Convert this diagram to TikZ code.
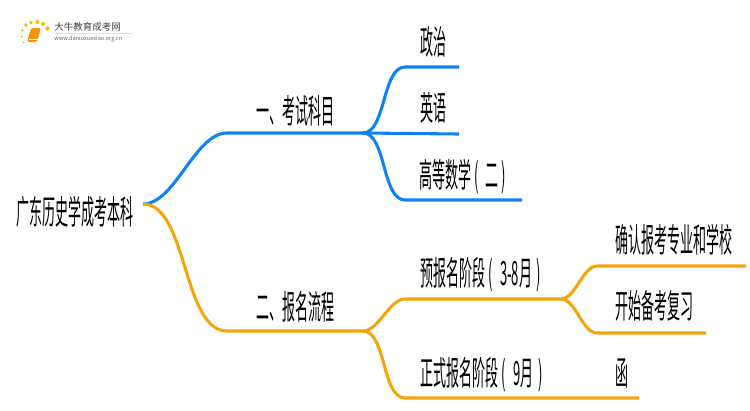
\documentclass[tikz,border=0pt]{standalone}
\usepackage{fontspec}
\newfontfamily\cjk[FakeStretch=0.39]{Noto Sans CJK SC}
\newfontfamily\logofont{Noto Sans CJK SC}
\definecolor{branchblue}{HTML}{0F82FA}
\definecolor{branchorange}{HTML}{F4A40C}
\tikzset{
	topic/.style={font=\cjk\fontsize{19pt}{21pt}\selectfont,text=black,inner sep=0pt,anchor=base west},
	bluebranch/.style={draw=branchblue,line width=1.75pt},
	orangebranch/.style={draw=branchorange,line width=1.75pt},
	scurve/.style={out=0,in=180,looseness=0.75}
}
\begin{document}
\begin{tikzpicture}[x=0.02cm,y=-0.02cm]
	\useasboundingbox (0,0) rectangle (750,410);
	
	\coordinate (rootend) at (143,204);
	\coordinate (examstart) at (227,133);
	\coordinate (exam) at (363,133);
	\coordinate (applystart) at (227,331);
	\coordinate (apply) at (363,331);
	\coordinate (politicsstart) at (405,67);
	\coordinate (politicsend) at (459,67);
	\coordinate (englishend) at (459,134);
	\coordinate (mathstart) at (405,200);
	\coordinate (mathend) at (522,200);
	\coordinate (prestart) at (405,299);
	\coordinate (pre) at (561,299);
	\coordinate (formalstart) at (405,398);
	\coordinate (formalend) at (639,398);
	\coordinate (confirmstart) at (597,266);
	\coordinate (confirmend) at (746,266);
	\coordinate (reviewstart) at (597,333);
	\coordinate (reviewend) at (706,333);
	
	\draw[bluebranch] (rootend) to[scurve] (examstart) -- (exam);
	\draw[bluebranch] (exam) to[scurve] (politicsstart) -- (politicsend);
	\draw[bluebranch] (exam) -- (englishend);
	\draw[bluebranch] (exam) to[scurve] (mathstart) -- (mathend);
	
	\draw[orangebranch] (rootend) to[scurve] (applystart) -- (apply);
	\draw[orangebranch] (apply) to[scurve] (prestart) -- (pre);
	\draw[orangebranch] (apply) to[scurve] (formalstart) -- (formalend);
	\draw[orangebranch] (pre) to[scurve] (confirmstart) -- (confirmend);
	\draw[orangebranch] (pre) to[scurve] (reviewstart) -- (reviewend);
	
	\node[topic] (root) at (16,224) {广东历史学成考本科};
	\node[topic] (examtext) at (256,123) {一、考试科目};
	\node[topic] (applytext) at (256,319) {二、报名流程};
	\node[topic] (politics) at (420,54) {政治};
	\node[topic] (english) at (420,120) {英语};
	\node[topic] (math) at (419,187) {高等数学 (\hspace{2pt} 二\hspace{0.5pt} )};
	\node[topic] (pretext) at (420,285) {预报名阶段 (\hspace{2.5pt} 3-8月\hspace{1pt} )};
	\node[topic] (formal) at (420,385) {正式报名阶段 (\hspace{2.5pt} 9月\hspace{1pt} )};
	\node[topic] (confirm) at (615,252) {确认报考专业和学校};
	\node[topic] (review) at (615,318) {开始备考复习};
	\node[topic] (letter) at (615,385) {函};
	
	% logo
	\foreach \dotx/\doty/\dotr in {26/25/1.8,31/22.5/1.9,37.5/22/2,43/24/2,47.5/28.5/2.2,22.5/30.5/1.3,21.5/36.5/1.2,23.5/42.5/1}
	\fill[branchorange!75!yellow] (\dotx,\doty) circle (\dotr);
	\fill[branchorange!90!red,rounded corners=1pt] (31,28) -- (41,28) -- (37,42) -- (27,42) -- cycle;
	\draw[white,line width=0.4pt] (29,39.5) -- (37.5,39.5);
	\draw[black!12,line width=0.4pt] (54,33) -- (132,33);
	\node[font=\logofont\fontsize{5.4pt}{6pt}\selectfont,text=black!75,inner sep=0pt,anchor=west] (logoname) at (54,27) {大牛教育成考网};
	\node[font=\logofont\fontsize{3.2pt}{5pt}\selectfont,text=black!60,inner sep=0pt,anchor=west] (logourl) at (54,38.5) {www.daniuxuexiao.org.cn};
\end{tikzpicture}
\end{document}
